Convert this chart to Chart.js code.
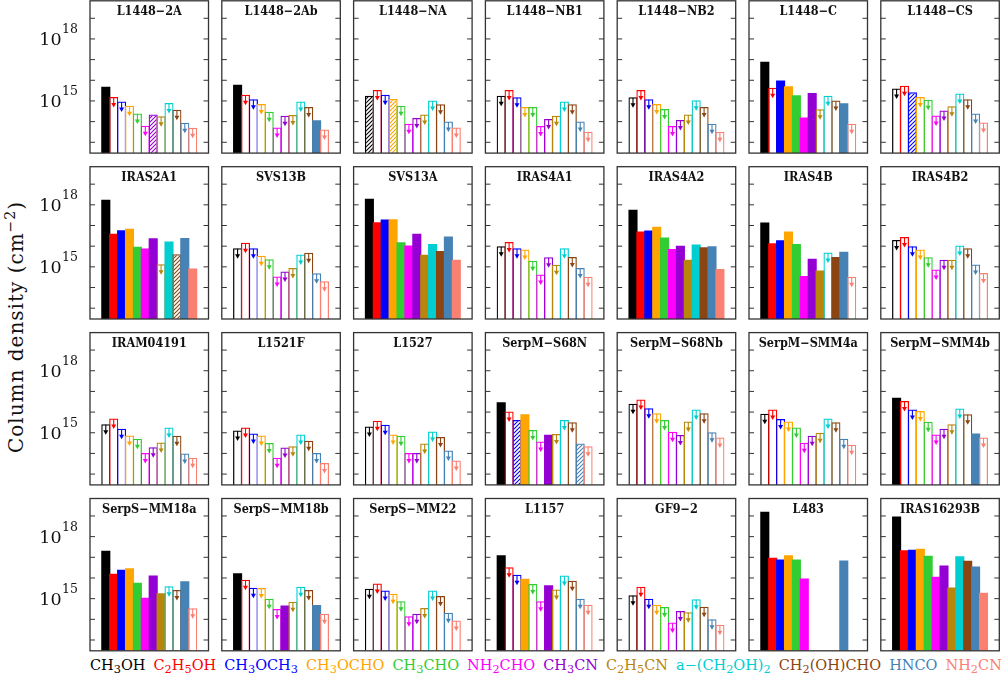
<!DOCTYPE html>
<html>
<head>
<meta charset="utf-8">
<script src="https://cdn.jsdelivr.net/npm/chart.js@4.4.0/dist/chart.umd.min.js"></script>
<style>
  html, body { margin: 0; padding: 0; background: #fff; }
  body { width: 1002px; height: 677px; position: relative; overflow: hidden; font-family: "DejaVu Serif", serif; }
  canvas { position: absolute; }
  #ytitle { position: absolute; left: 16px; top: 327px; transform: translate(-50%, -50%) rotate(-90deg);
            white-space: nowrap; font-size: 20px; letter-spacing: 1px; color: #111; }
  #ytitle .sup { font-size: 0.7em; position: relative; top: -0.6em; }
  #legend { position: absolute; left: 90px; width: 912px; top: 657px; display: flex; justify-content: space-between;
            font-size: 14.5px; line-height: 17px; white-space: nowrap; }
  #legend .sb { font-size: 0.78em; position: relative; top: 0.3em; }
</style>
</head>
<body>
<div id="ytitle">Column density (cm<span class="sup">−2</span>)</div>
<div id="legend"></div>
<script>
// ---------------- data ----------------
const molecules = ['CH3OH','C2H5OH','CH3OCH3','CH3OCHO','CH3CHO','NH2CHO','CH3CN','C2H5CN','a-(CH2OH)2','CH2(OH)CHO','HNCO','NH2CN'];

const sources = ['L1448-2A','L1448-2Ab','L1448-NA','L1448-NB1','L1448-NB2','L1448-C','L1448-CS',
                 'IRAS2A1','SVS13B','SVS13A','IRAS4A1','IRAS4A2','IRAS4B','IRAS4B2',
                 'IRAM04191','L1521F','L1527','SerpM-S68N','SerpM-S68Nb','SerpM-SMM4a','SerpM-SMM4b',
                 'SerpS-MM18a','SerpS-MM18b','SerpS-MM22','L1157','GF9-2','L483','IRAS16293B'];

// column densities (cm^-2), one array per source, in molecule order
const L1448_2A    = [4.8e15, 1.55e15, 9.3e14, 5.9e14, 2.5e14, 6.3e13, 2.2e14, 1.8e14, 7.9e14, 3.8e14, 8.9e13, 5.1e13];
const L1448_2Ab   = [6.0e15, 2.0e15, 1.2e15, 7.1e14, 3.0e14, 5.2e13, 1.95e14, 2.1e14, 9.5e14, 5.1e14, 1.15e14, 4.2e13];
const L1448_NA    = [1.8e15, 3.4e15, 2.0e15, 1.26e15, 5.9e14, 7.9e13, 1.5e14, 2.2e14, 1.05e15, 6.9e14, 1.0e14, 5.2e13];
const L1448_NB1   = [1.8e15, 3.4e15, 1.5e15, 5.1e14, 5.1e14, 6.2e13, 1.35e14, 1.95e14, 9.3e14, 6.9e14, 1.0e14, 3.2e13];
const L1448_NB2   = [1.5e15, 3.4e15, 1.2e15, 7.1e14, 4.1e14, 6.2e13, 1.2e14, 2.2e14, 1.07e15, 5.1e14, 7.9e13, 3.2e13];
const L1448_C     = [7.8e16, 4.3e15, 9.8e15, 5.1e15, 1.9e15, 1.6e14, 2.45e15, 4.0e14, 1.8e15, 1.05e15, 7.8e14, 7.9e13];
const L1448_CS    = [4.0e15, 5.4e15, 2.6e15, 1.55e15, 1.15e15, 2.0e14, 3.5e14, 5.5e14, 2.3e15, 1.2e15, 2.45e14, 9.1e13];
const IRAS2A1     = [1.74e18, 4.0e16, 5.9e16, 6.9e16, 9.5e15, 7.8e15, 2.45e16, 1.35e15, 1.7e16, 4.1e15, 2.5e16, 8.3e14];
const SVS13B      = [7.9e15, 1.45e16, 7.9e15, 3.4e15, 2.3e15, 3.4e14, 5.9e14, 8.9e14, 4.0e15, 4.8e15, 4.9e14, 2.0e14];
const SVS13A      = [1.95e18, 1.45e17, 1.95e17, 2.0e17, 1.55e16, 1.07e16, 4.0e16, 3.8e15, 1.26e16, 5.9e15, 2.95e16, 2.2e15];
const IRAS4A1     = [1.0e16, 1.6e16, 7.9e15, 6.9e15, 2.0e15, 4.3e14, 2.95e15, 1.26e15, 7.9e15, 3.0e15, 8.9e14, 3.3e14];
const IRAS4A2     = [5.8e17, 5.1e16, 5.8e16, 8.7e16, 2.6e16, 7.4e15, 1.05e16, 2.2e15, 1.2e16, 8.9e15, 1.0e16, 7.9e14];
const IRAS4B      = [1.4e17, 1.4e16, 1.95e16, 5.1e16, 1.26e16, 3.6e14, 2.45e15, 6.6e14, 4.9e15, 3.0e15, 5.4e15, 3.3e14];
const IRAS4B2     = [2.0e16, 2.8e16, 1.0e16, 6.9e15, 2.95e15, 7.4e14, 2.2e15, 2.2e15, 1.07e16, 7.9e15, 1.3e15, 5.1e14];
const IRAM04191   = [2.6e15, 4.9e15, 1.55e15, 7.4e14, 5.1e14, 1.05e14, 2.0e14, 3.4e14, 1.8e15, 7.1e14, 1.0e14, 6.2e13];
const L1521F      = [1.3e15, 1.8e15, 9.3e14, 7.4e14, 3.2e14, 6.2e13, 1.95e14, 2.2e14, 8.3e14, 4.1e14, 1.05e14, 3.4e13];
const L1527       = [2.0e15, 3.8e15, 2.45e15, 8.3e14, 7.1e14, 1.05e14, 1.05e14, 3.0e14, 1.15e15, 6.2e14, 1.4e14, 4.6e13];
const SerpM_S68N  = [2.95e16, 1.07e16, 4.1e15, 7.9e15, 1.35e15, 3.8e14, 7.9e14, 8.7e14, 4.1e15, 3.2e15, 3.0e14, 2.2e14];
const SerpM_S68Nb = [2.5e16, 4.1e16, 1.55e16, 8.7e15, 4.1e15, 1.12e15, 7.8e14, 3.5e15, 1.35e16, 8.7e15, 1.05e15, 5.9e14];
const SerpM_SMM4a = [8.3e15, 1.35e16, 4.6e15, 3.5e15, 1.8e15, 3.3e14, 7.1e14, 1.0e15, 4.9e15, 3.2e15, 5.1e14, 2.6e14];
const SerpM_SMM4b = [4.9e16, 3.4e16, 1.35e16, 1.12e16, 3.4e15, 8.3e14, 1.55e15, 2.6e15, 1.5e16, 7.8e15, 9.3e14, 5.9e14];
const SerpS_MM18a = [2.1e17, 1.6e16, 2.5e16, 2.95e16, 5.9e15, 1.12e15, 1.3e16, 1.85e15, 4.0e15, 2.6e15, 6.9e15, 3.4e14];
const SerpS_MM18b = [1.7e16, 8.3e15, 3.4e15, 3.3e15, 1.0e15, 3.2e14, 4.6e14, 7.1e14, 3.8e15, 2.6e15, 4.9e14, 1.85e14];
const SerpS_MM22  = [3.0e15, 5.4e15, 2.5e15, 1.75e15, 7.4e14, 1.4e14, 1.85e14, 3.5e14, 2.45e15, 1.35e15, 2.1e14, 8.7e13];
const L1157       = [1.26e17, 3.3e16, 1.45e16, 9.3e15, 5.1e15, 7.4e14, 4.5e15, 2.8e15, 1.3e16, 7.4e15, 1.0e15, 5.1e14];
const GF9_2       = [1.45e15, 3.8e15, 1.0e15, 5.1e14, 4.0e14, 7.1e13, 2.5e14, 2.2e14, 9.3e14, 4.1e14, 1.0e14, 5.5e13];
const L483        = [1.6e19, 9.5e16, 7.8e16, 1.26e17, 7.8e16, 9.5e15, null, null, null, null, 7.1e16, null];
const IRAS16293B  = [9.5e18, 2.2e17, 2.3e17, 2.6e17, 1.2e17, 1.15e16, 4.0e16, 3.5e15, 1.12e17, 6.9e16, 3.6e16, 1.95e15];

// D = detection, U = upper limit, T = tentative detection
const flags = ['DUUUUUTUUUUU','DUUUUUUUUUDU','TUUTUUUUUUUU','UUUUUUUUUUUU','UUUUUUUUUUUU','DUDDDDDUUUDU','UUTUUUUUUUUU',
               'DDDDDDDUDTDD','UUUUUUUUUUUU','DDDDDDDDDDDD','UUUUUUUUUUUU','DDDDDDDDDDDD','DDDDDDDDUDDU','UUUUUUUUUUUU',
               'UUUUUUUUUUUU','UUUUUUUUUUUU','UUUUUUUUUUUU','DUTDUUDUUUTU','UUUUUUUUUUUU','UUUUUUUUUUUU','DUUUUUUUUUDU',
               'DDDDDDDDUUDU','DUUUUUDUUUDU','UUUUUUUUUUUU','DUUDUUDUUUUU','UUUUUUUUUUUU','DDDDDD----D-','DDDDDDDDDDDD'];

const sourceValues = [L1448_2A, L1448_2Ab, L1448_NA, L1448_NB1, L1448_NB2, L1448_C, L1448_CS,
                      IRAS2A1, SVS13B, SVS13A, IRAS4A1, IRAS4A2, IRAS4B, IRAS4B2,
                      IRAM04191, L1521F, L1527, SerpM_S68N, SerpM_S68Nb, SerpM_SMM4a, SerpM_SMM4b,
                      SerpS_MM18a, SerpS_MM18b, SerpS_MM22, L1157, GF9_2, L483, IRAS16293B];

const tickLabelExponents = [15, 18];
const yMin = 3.0e12, yMax = 7.0e19;

// ---------------- style ----------------
const colors = ['#000000','#ff0000','#0000ff','#ffa500','#32cd32','#ff00ff','#9400d3','#b8860b','#00ced1','#8b4513','#4682b4','#fa8072'];
const NCOLS = 7;
const PANEL_W = 118.5, PANEL_H = 152.3;
const X0 = 90, DX = 131.8, Y0 = 0.8, DY = 165.9;
const TITLE_FONT = 'bold 12.5px "DejaVu Serif Condensed", "DejaVu Serif", serif';

function hatch(color) {
  const c = document.createElement('canvas');
  c.width = 4; c.height = 4;
  const g = c.getContext('2d');
  g.strokeStyle = color; g.lineWidth = 1.1;
  g.beginPath();
  g.moveTo(-1, 5); g.lineTo(5, -1);
  g.moveTo(-1, 1); g.lineTo(1, -1);
  g.moveTo(3, 5); g.lineTo(5, 3);
  g.stroke();
  return g.createPattern(c, 'repeat');
}

function displayName(s) { return s.replace(/-/g, '\u2212'); }

const panelPlugin = {
  id: 'panel',
  afterDatasetsDraw(chart) {
    const o = chart.options.plugins.panel;
    const ctx = chart.ctx, a = chart.chartArea, ys = chart.scales.y;
    const meta = chart.getDatasetMeta(0);
    ctx.save();
    // upper-limit arrows
    meta.data.forEach((bar, i) => {
      if (o.flags[i] !== 'U' || !isFinite(bar.y) || !isFinite(bar.x)) return;
      const c = colors[i];
      ctx.strokeStyle = c; ctx.fillStyle = c; ctx.lineWidth = 1.1;
      const x = bar.x, t = bar.y;
      ctx.beginPath(); ctx.moveTo(x, t + 0.5); ctx.lineTo(x, t + 7); ctx.stroke();
      ctx.beginPath(); ctx.moveTo(x - 2.5, t + 6); ctx.lineTo(x + 2.5, t + 6); ctx.lineTo(x, t + 10.5); ctx.closePath(); ctx.fill();
    });
    // frame
    ctx.strokeStyle = '#333'; ctx.lineWidth = 1.3;
    ctx.strokeRect(a.left, a.top, a.right - a.left, a.bottom - a.top);
    // inward decade ticks on both sides
    const e0 = Math.ceil(Math.log10(ys.min)), e1 = Math.floor(Math.log10(ys.max));
    ctx.lineWidth = 1; ctx.strokeStyle = '#333';
    for (let e = e0; e <= e1; e++) {
      const py = ys.getPixelForValue(Math.pow(10, e));
      ctx.beginPath();
      ctx.moveTo(a.left, py); ctx.lineTo(a.left + 5, py);
      ctx.moveTo(a.right, py); ctx.lineTo(a.right - 5, py);
      ctx.stroke();
    }
    // panel title
    ctx.fillStyle = '#111';
    ctx.font = TITLE_FONT;
    ctx.textAlign = 'center'; ctx.textBaseline = 'alphabetic';
    ctx.fillText(displayName(o.title), (a.left + a.right) / 2, a.top + 14.5);
    // y tick labels (first column only)
    if (o.showLabels) {
      ctx.fillStyle = '#111'; ctx.textAlign = 'right';
      tickLabelExponents.forEach(e => {
        const py = ys.getPixelForValue(Math.pow(10, e));
        const xr = a.left - 12;
        ctx.font = '12.5px "DejaVu Serif"';
        const ex = String(e);
        const ew = ctx.measureText(ex).width;
        ctx.fillText(ex, xr, py - 6);
        ctx.font = '17.5px "DejaVu Serif"';
        ctx.fillText('10', xr - ew - 0.5, py + 6.5);
      });
    }
    ctx.restore();
  }
};

sources.forEach((name, k) => {
  const r = Math.floor(k / NCOLS), c = k % NCOLS;
  const fl = X0 + DX * c, ft = Y0 + DY * r;
  const cl = c === 0 ? 28 : Math.floor(fl) - 4;
  const ct = Math.max(0, Math.floor(ft) - 2);
  const cw = Math.ceil(fl + PANEL_W) + 4 - cl;
  const ch = Math.ceil(ft + PANEL_H) + 3 - ct;
  const cv = document.createElement('canvas');
  cv.width = cw; cv.height = ch;
  cv.style.left = cl + 'px'; cv.style.top = ct + 'px';
  cv.style.width = cw + 'px'; cv.style.height = ch + 'px';
  document.body.appendChild(cv);

  const vals = sourceValues[k];
  const f = flags[k];
  const data = vals.map((v, i) => ({ x: i, y: v }));
  const bg = molecules.map((m, i) => f[i] === 'D' ? colors[i] : (f[i] === 'T' ? hatch(colors[i]) : 'rgba(255,255,255,0)'));
  const bw = molecules.map((m, i) => f[i] === 'D' ? 0 : 1.25);

  new Chart(cv, {
    type: 'bar',
    data: {
      labels: molecules,
      datasets: [{
        label: name,
        data: data,
        backgroundColor: bg,
        borderColor: colors,
        borderWidth: bw,
        barPercentage: 1.15,
        categoryPercentage: 1.0,
        borderSkipped: 'start'
      }]
    },
    options: {
      responsive: false,
      animation: false,
      devicePixelRatio: 1,
      layout: { padding: { left: fl - cl, top: ft - ct, right: cw - (fl - cl) - PANEL_W, bottom: ch - (ft - ct) - PANEL_H } },
      scales: {
        x: { type: 'linear', min: -2, max: 13, offset: false, display: false, ticks: { stepSize: 1 }, grid: { display: false } },
        y: { type: 'logarithmic', min: yMin, max: yMax, display: false, grid: { display: false } }
      },
      plugins: {
        legend: { display: false },
        tooltip: { enabled: false },
        panel: { title: name, flags: f, showLabels: c === 0 }
      }
    },
    plugins: [panelPlugin]
  });
});

// legend (HTML text with subscripts)
const legend = document.getElementById('legend');
molecules.forEach((m, i) => {
  const s = document.createElement('span');
  s.style.color = colors[i];
  s.innerHTML = m.replace(/-/g, '\u2212').replace(/([A-Za-z\)])(\d)/g, '$1<span class="sb">$2</span>');
  legend.appendChild(s);
});
</script>
</body>
</html>
